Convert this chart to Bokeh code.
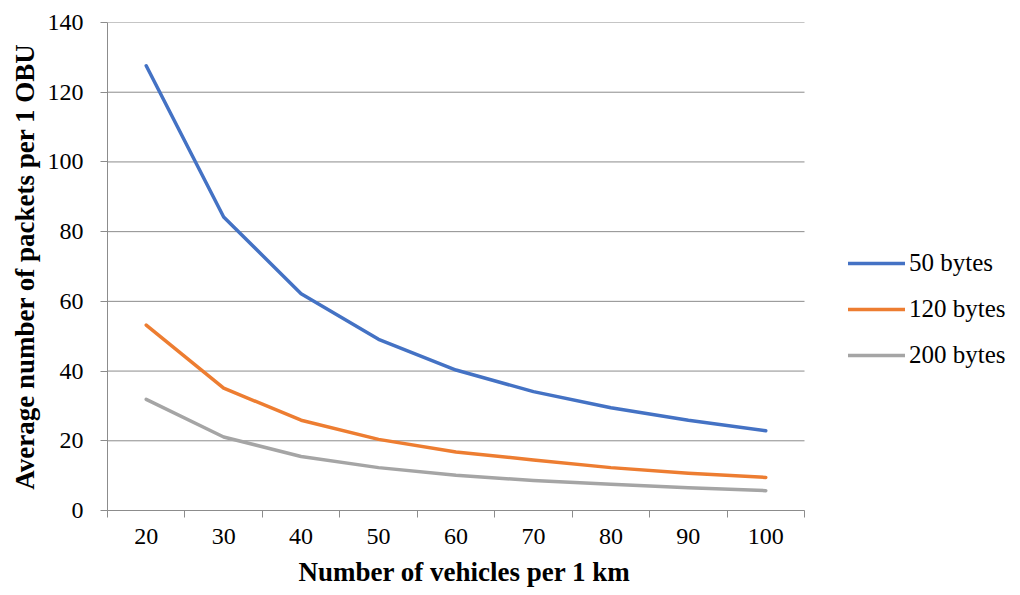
from bokeh.plotting import figure
from bokeh.models import FixedTicker, Legend, LegendItem, Range1d, Title
from bokeh.embed import file_html
from bokeh.resources import INLINE

# Vehicle density categories (vehicles per km)
vehicles = [20, 30, 40, 50, 60, 70, 80, 90, 100]

# Average packets per OBU for each packet size
bytes_50 = [127.6, 84.2, 62.2, 49.1, 40.3, 34.1, 29.5, 25.9, 22.9]
bytes_120 = [53.2, 35.1, 25.9, 20.4, 16.8, 14.5, 12.3, 10.7, 9.5]
bytes_200 = [31.9, 21.1, 15.5, 12.3, 10.1, 8.6, 7.5, 6.5, 5.7]

series_names = ["50 bytes", "120 bytes", "200 bytes"]
y_ticks = [0, 20, 40, 60, 80, 100, 120, 140]

colors = ["#4472C4", "#ED7D31", "#A5A5A5"]
FONT = "Liberation Serif"
GRID = "#8C8C8C"

n = len(vehicles)
xs = [i + 0.5 for i in range(n)]

# The frame runs on to the right so the legend can sit beside the plotted area;
# the axis, grid and data only span the categories [0, n].
LEFT, DATA_RIGHT, FRAME_RIGHT = 107, 804, 1012
x_end = n * (FRAME_RIGHT - LEFT) / (DATA_RIGHT - LEFT)

p = figure(
    width=1020, height=595,
    output_backend="svg", toolbar_location=None,
    x_range=Range1d(0, x_end), y_range=Range1d(0, 140),
    min_border_left=LEFT, min_border_right=1020 - FRAME_RIGHT,
    min_border_top=22, min_border_bottom=85,
)
p.outline_line_color = None
p.background_fill_color = "white"
p.border_fill_color = "white"

# Horizontal gridlines limited to the category span
p.segment(x0=0, x1=n, y0=y_ticks, y1=y_ticks, line_color=GRID, line_width=1)

# Category axis: labels at centres, tick marks at category boundaries
p.xaxis.bounds = (0, n)
p.xaxis.ticker = FixedTicker(ticks=xs, minor_ticks=list(range(n + 1)))
p.xaxis.major_label_overrides = {x: str(v) for x, v in zip(xs, vehicles)}
p.xaxis.major_tick_line_color = None
p.xaxis.minor_tick_line_color = GRID
p.xaxis.minor_tick_out = 7
p.xaxis.minor_tick_in = 0
p.xaxis.axis_line_color = GRID
p.xaxis.major_label_standoff = 11
p.xgrid.grid_line_color = None

p.yaxis.ticker = FixedTicker(ticks=y_ticks, minor_ticks=[])
p.yaxis.major_tick_line_color = GRID
p.yaxis.major_tick_out = 7
p.yaxis.major_tick_in = 0
p.yaxis.minor_tick_line_color = None
p.yaxis.axis_line_color = GRID
p.yaxis.major_label_standoff = 17
p.yaxis.axis_label = "Average number of packets per 1 OBU"
p.yaxis.axis_label_standoff = 5
p.ygrid.grid_line_color = None

for ax in (p.xaxis, p.yaxis):
    ax.major_label_text_font = FONT
    ax.major_label_text_font_size = "24px"
    ax.major_label_text_color = "black"
    ax.axis_label_text_font = FONT
    ax.axis_label_text_font_size = "27px"
    ax.axis_label_text_font_style = "bold"
    ax.axis_label_text_color = "black"

# x-axis title, set under the category span rather than the whole frame
x_title = Title(
    text="Number of vehicles per 1 km", align="left",
    offset=191, standoff=17,
    text_font=FONT, text_font_size="27px", text_font_style="bold",
    text_color="black",
)
p.add_layout(x_title, "below")

renderers = []
for ys, c in zip([bytes_50, bytes_120, bytes_200], colors):
    r = p.line(xs, ys, line_color=c, line_width=3.5,
               line_cap="round", line_join="round")
    renderers.append(r)

legend = Legend(
    items=[LegendItem(label=nm, renderers=[r]) for nm, r in zip(series_names, renderers)],
    location=(741, 141),
    orientation="vertical",
    glyph_width=57, glyph_height=20, label_height=20,
    label_standoff=4, spacing=18, padding=0, margin=0,
    border_line_color=None, background_fill_alpha=0,
    label_text_font=FONT, label_text_font_size="25px", label_text_color="black",
)
p.add_layout(legend, "center")

open("out.html", "w").write(file_html(p, INLINE))
